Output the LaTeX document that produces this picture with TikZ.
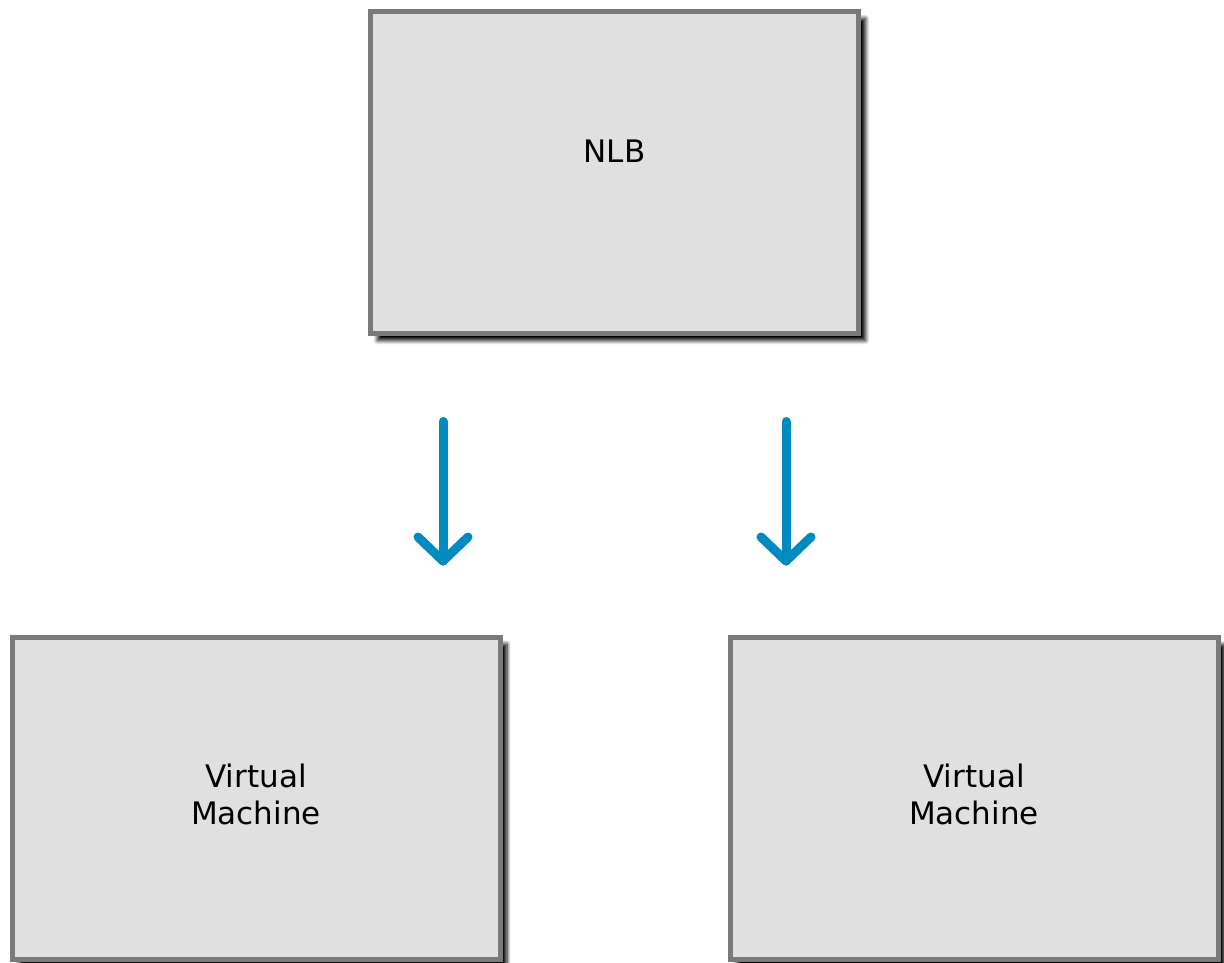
\documentclass[tikz,border=0pt]{standalone}
\usepackage{fontspec}
\setmainfont{DejaVu Sans}
\usetikzlibrary{shadows.blur}
\definecolor{boxfill}{HTML}{E0E0E0}
\definecolor{boxline}{HTML}{7A7A7A}
\definecolor{arrblue}{HTML}{008BC0}
\begin{document}
\begin{tikzpicture}[x=1pt,y=-1pt,
  box/.style={draw=boxline, fill=boxfill, line width=5pt, minimum width=488pt, minimum height=322pt,
    inner sep=0pt,
    blur shadow={shadow xshift=7pt, shadow yshift=-7pt, shadow blur radius=4pt, shadow blur steps=8, shadow opacity=100}},
  lbl/.style={font=\fontsize{31}{37}\selectfont, align=center, inner sep=0pt},
  arr/.style={draw=arrblue, line width=9pt, line cap=round, line join=round}]
\useasboundingbox (0,0) rectangle (1224,963);
\node[box] (nlb) at (614.5,172.5) {};
\node[lbl] (nlbtext) at (614.5,151) {NLB};
\node[box] (vm1) at (256,798) {};
\node[lbl] (vm1text) at ([yshift=4pt]vm1.center) {Virtual\\Machine};
\node[box] (vm2) at (974,798.5) {};
\node[lbl] (vm2text) at ([yshift=4pt]vm2.center) {Virtual\\Machine};
\coordinate (a1s) at (443,421.5);
\coordinate (a1e) at (443,561);
\coordinate (a2s) at (786,421.5);
\coordinate (a2e) at (786,561);
\draw[arr] (a1s) -- (a1e);
\draw[arr] (a1e) ++(-25,-24) -- (a1e) -- ++(25,-24);
\draw[arr] (a2s) -- (a2e);
\draw[arr] (a2e) ++(-25,-24) -- (a2e) -- ++(25,-24);
\end{tikzpicture}
\end{document}
